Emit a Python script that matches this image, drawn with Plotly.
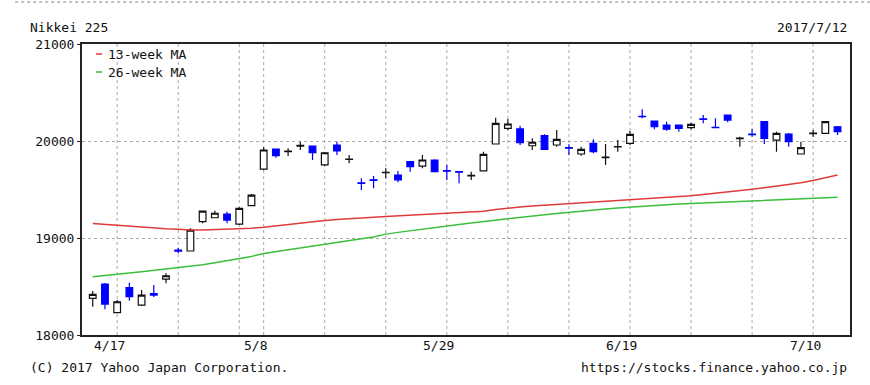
import plotly.graph_objects as go

# ---------------- data ----------------
dates = ["4/13","4/14","4/17","4/18","4/19","4/20","4/21","4/24","4/25","4/26","4/27","4/28",
         "5/1","5/2","5/8","5/9","5/10","5/11","5/12","5/15","5/16","5/17","5/18","5/19",
         "5/22","5/23","5/24","5/25","5/26","5/29","5/30","5/31",
         "6/1","6/2","6/5","6/6","6/7","6/8","6/9","6/12","6/13","6/14","6/15","6/16",
         "6/19","6/20","6/21","6/22","6/23","6/26","6/27","6/28","6/29","6/30",
         "7/3","7/4","7/5","7/6","7/7","7/10","7/11","7/12"]

open_ = [18378,18526,18230,18488,18309,18428,18577,18876,18866,19168,19209,19247,
         19144,19333,19711,19917,19890,19948,19948,19753,19959,19810,19568,19600,
         19674,19649,19787,19742,19804,19694,19684,19640,
         19691,19969,20131,20124,19951,20055,19959,19931,19866,19976,19828,19938,
         19976,20255,20206,20165,20165,20137,20228,20142,20268,20025,
         20072,20199,20010,20072,19866,20077,20079,20147]
high = [18454,18536,18360,18539,18464,18515,18636,18900,19100,19278,19281,19271,
        19317,19454,19935,19917,19925,19993,19948,19887,19993,19856,19615,19639,
        19718,19691,19787,19856,19811,19752,19684,19683,
        19890,20240,20227,20158,20028,20069,20113,19966,19941,20017,19969,20010,
        20103,20327,20210,20199,20165,20189,20268,20234,20268,20045,
        20120,20199,20096,20082,19993,20113,20199,20155]
low = [18292,18265,18226,18353,18299,18392,18533,18842,18866,19151,19206,19151,
       19134,19330,19701,19828,19845,19907,19804,19742,19856,19770,19495,19512,
       19615,19574,19683,19718,19680,19598,19564,19598,
       19691,19969,20113,19959,19907,19907,19941,19856,19848,19873,19753,19890,
       19959,20234,20121,20106,20096,20121,20182,20131,20193,19941,
       20045,19969,19890,19941,19866,20045,20079,20062]
close = [18419,18319,18343,18395,18412,18412,18611,18864,19082,19278,19255,19185,
         19306,19443,19907,19848,19896,19955,19879,19879,19897,19814,19562,19595,
         19678,19598,19735,19804,19683,19688,19680,19645,
         19863,20182,20175,19982,19987,19914,20017,19925,19914,19890,19834,19943,
         20069,20250,20147,20121,20131,20172,20222,20137,20216,20030,
         20066,20028,20079,19993,19931,20081,20199,20096]

ma13 = [19150,19140,19128,19120,19115,19105,19095,19090,19082,19082,19085,19088,
        19093,19100,19110,19125,19140,19155,19165,19180,19190,19200,19210,19215,
        19222,19228,19235,19242,19250,19258,19262,19266,
        19275,19295,19310,19320,19330,19338,19345,19355,19362,19370,19378,19385,
        19392,19400,19408,19415,19425,19435,19448,19460,19473,19488,
        19503,19518,19533,19550,19570,19592,19620,19650]
ma26 = [18600,18615,18628,18640,18652,18665,18678,18693,18708,18725,18745,18765,
        18790,18810,18840,18860,18878,18898,18918,18935,18955,18975,18993,19010,
        19040,19058,19075,19095,19110,19125,19140,19155,
        19170,19185,19200,19215,19228,19240,19252,19265,19277,19288,19298,19308,
        19318,19328,19336,19343,19350,19356,19362,19367,19372,19377,
        19382,19388,19393,19398,19405,19410,19415,19420]

week_starts = ["4/17","4/24","5/1","5/8","5/15","5/22","5/29","6/5","6/12","6/19","6/26","7/3","7/10"]
label_dates = ["4/17","5/8","5/29","6/19","7/10"]
y_ticks = [18000, 19000, 20000, 21000]

title_text = "Nikkei 225"
date_text = "2017/7/12"
legend_names = ["13-week MA", "26-week MA"]
footer_left = "(C) 2017 Yahoo Japan Corporation."
footer_right = "https://stocks.finance.yahoo.co.jp"

# ---------------- figure ----------------
FONT = "DejaVu Sans Mono"
RED = "#e03a3a"
GREEN = "#3cbf3c"
BLUE = "#0000ff"

idx = list(range(len(dates)))

fig = go.Figure()
fig.add_trace(go.Scatter(x=idx, y=ma13, mode="lines", line=dict(color=RED, width=1.5),
                         name=legend_names[0], showlegend=False, hoverinfo="skip"))
fig.add_trace(go.Scatter(x=idx, y=ma26, mode="lines", line=dict(color=GREEN, width=1.5),
                         name=legend_names[1], showlegend=False, hoverinfo="skip"))
fig.add_trace(go.Candlestick(
    x=idx, open=open_, high=high, low=low, close=close,
    increasing=dict(line=dict(color="#111111", width=1.2), fillcolor="white"),
    decreasing=dict(line=dict(color=BLUE, width=1.2), fillcolor=BLUE),
    whiskerwidth=0, showlegend=False,
))

shapes = []
for d in week_starts:
    i = dates.index(d)
    shapes.append(dict(type="line", xref="x", yref="y", x0=i, x1=i, y0=y_ticks[0], y1=y_ticks[-1],
                       line=dict(color="#a8a8a8", width=1, dash="dot"), layer="below"))
# top dotted separator
shapes.append(dict(type="line", xref="paper", yref="paper", x0=-0.087, x1=1.03, y0=1.144, y1=1.144,
                   line=dict(color="#c0c0c0", width=2, dash="dot")))
# legend dashes
for k, col in enumerate([RED, GREEN]):
    yy = 1 - (10 + 18 * k) / 291
    shapes.append(dict(type="line", xref="paper", yref="paper", x0=14/768, x1=20/768, y0=yy, y1=yy,
                       line=dict(color=col, width=1.5)))

annotations = []
for d in label_dates:
    annotations.append(dict(x=dates.index(d), xref="x", y=0, yref="paper", text=d, showarrow=False,
                            yanchor="top", xanchor="center", xshift=-8, yshift=-1,
                            font=dict(family=FONT, size=13, color="#111")))
for k, nm in enumerate(legend_names):
    annotations.append(dict(x=24/768, xref="paper", y=1 - (10 + 18 * k) / 291, yref="paper", text=nm,
                            showarrow=False, xanchor="left", yanchor="middle",
                            font=dict(family=FONT, size=13, color="#111")))
annotations.append(dict(x=-54/768, xref="paper", y=(335-28)/291, yref="paper", text=title_text,
                        showarrow=False, xanchor="left", yanchor="middle",
                        font=dict(family=FONT, size=13, color="#111")))
annotations.append(dict(x=(849-82)/768, xref="paper", y=(335-28)/291, yref="paper", text=date_text,
                        showarrow=False, xanchor="right", yanchor="middle",
                        font=dict(family=FONT, size=13, color="#111")))
annotations.append(dict(x=-54/768, xref="paper", y=(335-367)/291, yref="paper", text=footer_left,
                        showarrow=False, xanchor="left", yanchor="middle",
                        font=dict(family=FONT, size=13, color="#111")))
annotations.append(dict(x=(849-82)/768, xref="paper", y=(335-367)/291, yref="paper", text=footer_right,
                        showarrow=False, xanchor="right", yanchor="middle",
                        font=dict(family=FONT, size=13, color="#111")))

fig.update_layout(
    width=870, height=385,
    margin=dict(l=82, r=20, t=44, b=50),
    paper_bgcolor="white", plot_bgcolor="white",
    shapes=shapes, annotations=annotations,
    showlegend=False,
    boxgap=0.22,
    font=dict(family=FONT, size=13, color="#111"),
    xaxis=dict(range=[-0.88, 62.02], showgrid=False, zeroline=False, showticklabels=False,
               showline=True, mirror=True, linecolor="#222", linewidth=2,
               rangeslider=dict(visible=False), fixedrange=True),
    yaxis=dict(range=[18000, 21000], tickvals=y_ticks, ticktext=[str(v) for v in y_ticks],
               showgrid=True, gridcolor="#a8a8a8", griddash="dot", gridwidth=1, zeroline=False,
               showline=True, mirror=True, linecolor="#222", linewidth=2,
               ticks="outside", ticklen=3, tickcolor="#222",
               tickfont=dict(family=FONT, size=13, color="#111"), fixedrange=True),
)

fig.write_html("out.html")
